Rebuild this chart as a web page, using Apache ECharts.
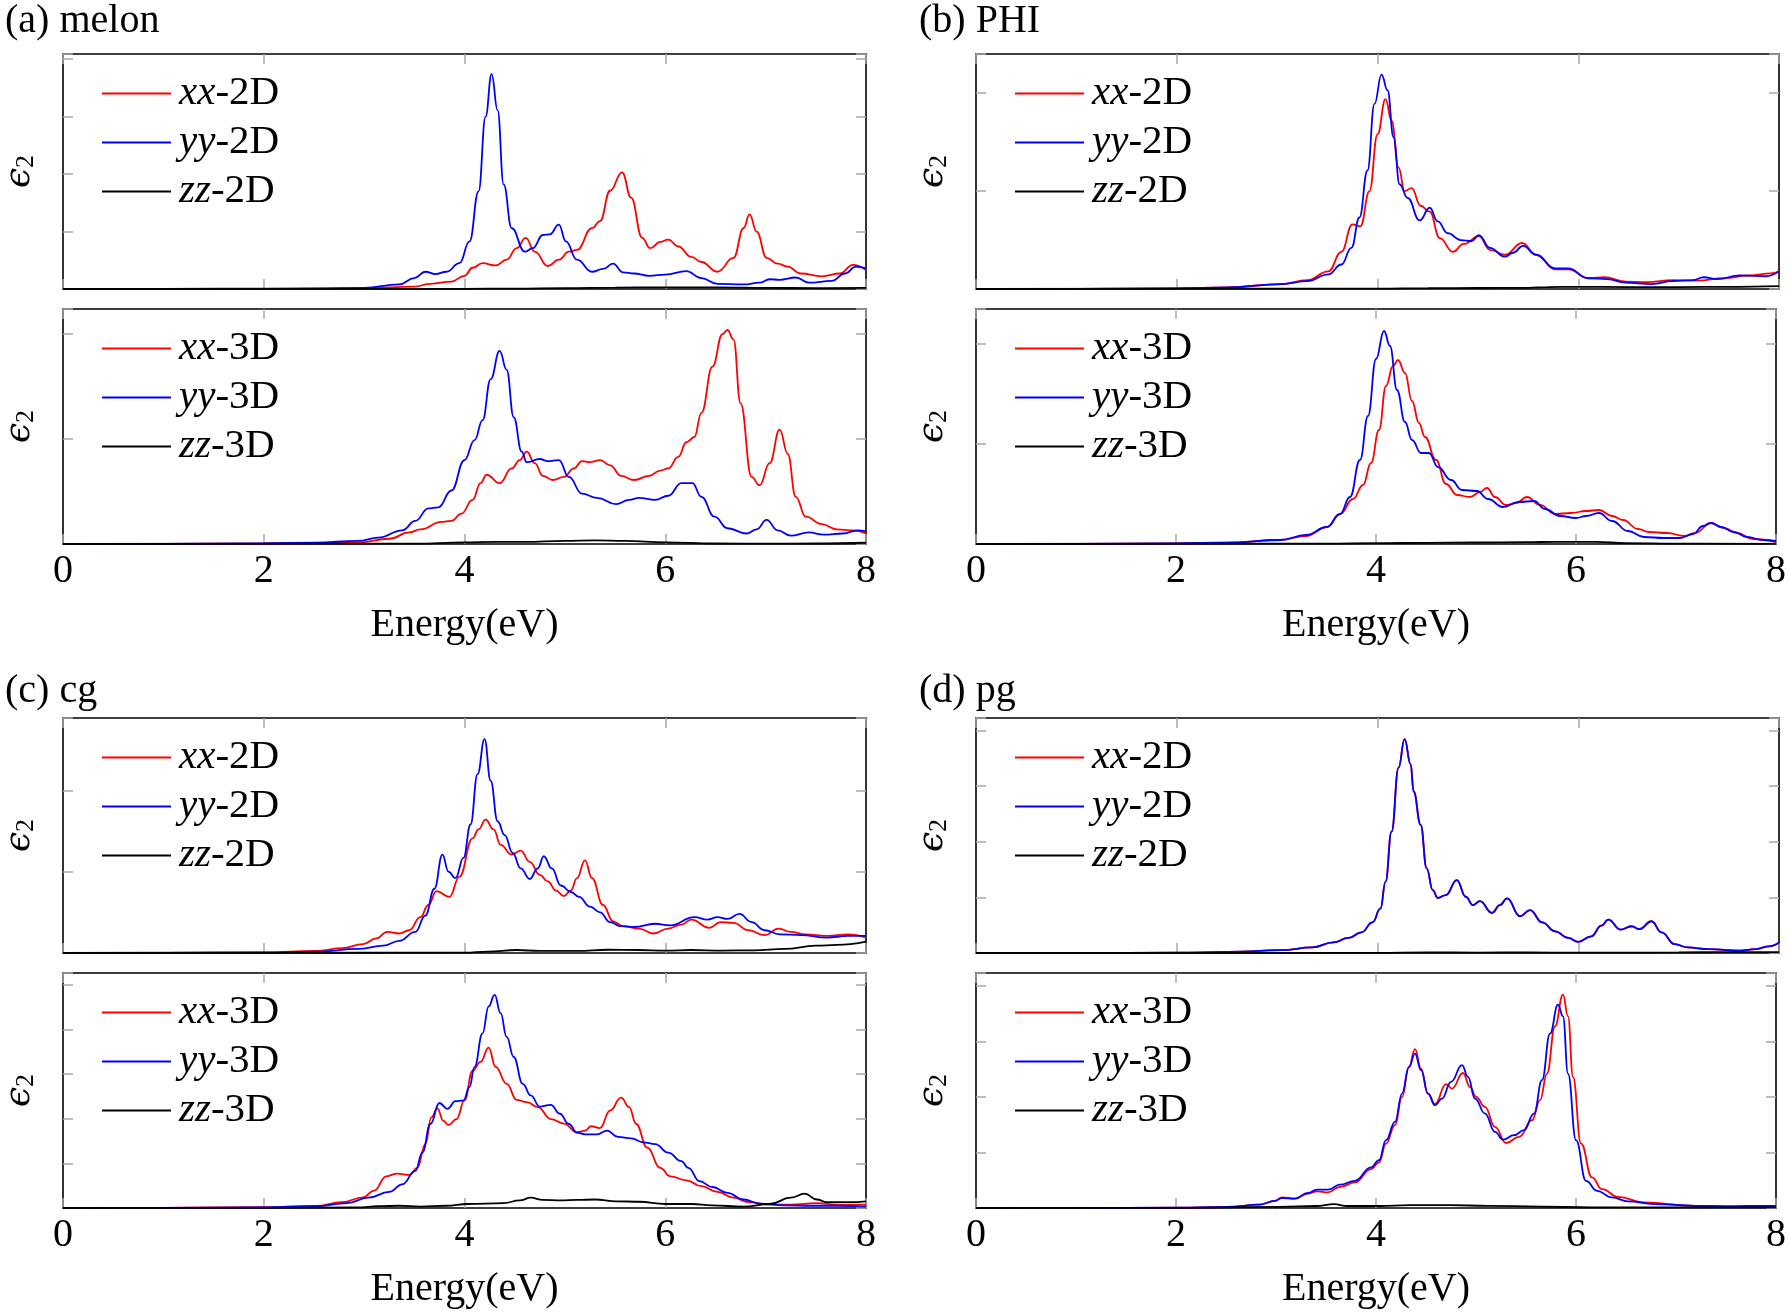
<!DOCTYPE html>
<html>
<head>
<meta charset="utf-8">
<script src="https://cdn.jsdelivr.net/npm/echarts@6/dist/echarts.min.js"></script>
<style>
html, body { margin: 0; background: #fff; }
#chart { width: 1789px; height: 1312px; }
</style>
</head>
<body>
<div id="chart"></div>
<script>
// values, [energy eV, eps2 in tick units]
var melon2D_xx = [[0,0],[1,0.001],[2,0.003],[2.5,0.006],[3,0.012],[3.5,0.04],[3.66,0.09],[3.87,0.13],[4.0,0.23],[4.08,0.37],[4.18,0.45],[4.31,0.41],[4.42,0.51],[4.52,0.71],[4.61,0.89],[4.7,0.65],[4.83,0.40],[4.94,0.51],[5.04,0.65],[5.12,0.68],[5.27,1.06],[5.35,1.18],[5.45,1.71],[5.57,2.03],[5.66,1.59],[5.77,0.89],[5.85,0.71],[5.95,0.82],[6.03,0.86],[6.13,0.74],[6.26,0.56],[6.36,0.47],[6.52,0.30],[6.68,0.54],[6.78,1.06],[6.84,1.30],[6.91,1.0],[7.01,0.54],[7.12,0.44],[7.22,0.39],[7.35,0.27],[7.56,0.22],[7.74,0.27],[7.87,0.42],[8.0,0.33]];
var melon2D_yy = [[0,0],[1,0.002],[2,0.006],[2.5,0.01],[3,0.02],[3.35,0.08],[3.5,0.19],[3.61,0.30],[3.71,0.26],[3.82,0.30],[3.95,0.45],[4.05,0.83],[4.14,1.7],[4.21,3.0],[4.27,3.74],[4.33,3.11],[4.39,1.82],[4.47,1.06],[4.6,0.65],[4.68,0.71],[4.78,0.94],[4.85,0.95],[4.94,1.12],[5.01,0.83],[5.12,0.51],[5.27,0.30],[5.38,0.35],[5.48,0.44],[5.58,0.29],[5.69,0.27],[5.84,0.23],[6.0,0.25],[6.21,0.31],[6.36,0.19],[6.52,0.09],[6.78,0.08],[6.94,0.11],[7.04,0.17],[7.14,0.16],[7.3,0.20],[7.43,0.11],[7.66,0.14],[7.79,0.27],[7.9,0.39],[8.0,0.36]];
var melon2D_zz = [[0,0],[4,0.003],[4.5,0.008],[5,0.015],[5.5,0.025],[6,0.03],[6.5,0.03],[7,0.02],[7.5,0.015],[8,0.02]];

var melon3D_xx = [[0,0],[1,0.002],[2,0.005],[2.5,0.008],[2.94,0.013],[3.25,0.05],[3.45,0.11],[3.56,0.14],[3.77,0.21],[3.87,0.22],[3.97,0.29],[4.08,0.42],[4.16,0.58],[4.22,0.66],[4.35,0.58],[4.47,0.72],[4.55,0.80],[4.62,0.88],[4.7,0.77],[4.78,0.65],[4.88,0.61],[4.99,0.64],[5.09,0.72],[5.17,0.79],[5.25,0.78],[5.35,0.80],[5.45,0.75],[5.56,0.65],[5.69,0.61],[5.84,0.65],[5.95,0.70],[6.03,0.72],[6.13,0.83],[6.21,0.97],[6.29,1.02],[6.36,1.25],[6.47,1.69],[6.57,2.0],[6.62,2.04],[6.68,1.95],[6.75,1.34],[6.86,0.64],[6.94,0.56],[7.04,0.77],[7.14,1.09],[7.22,0.86],[7.3,0.45],[7.4,0.26],[7.56,0.19],[7.71,0.14],[7.87,0.13],[8.0,0.10]];
var melon3D_yy = [[0,0],[1,0.002],[2,0.006],[2.52,0.013],[2.94,0.03],[3.14,0.06],[3.38,0.13],[3.51,0.22],[3.64,0.34],[3.74,0.35],[3.87,0.51],[4.0,0.80],[4.1,0.99],[4.18,1.18],[4.26,1.57],[4.35,1.84],[4.42,1.66],[4.49,1.21],[4.57,0.88],[4.62,0.78],[4.75,0.81],[4.83,0.79],[4.94,0.80],[5.04,0.64],[5.17,0.48],[5.32,0.44],[5.51,0.38],[5.64,0.42],[5.74,0.44],[5.9,0.42],[6.03,0.46],[6.16,0.58],[6.27,0.58],[6.36,0.45],[6.49,0.26],[6.62,0.15],[6.81,0.10],[6.91,0.14],[7.01,0.23],[7.12,0.13],[7.25,0.08],[7.43,0.11],[7.58,0.09],[7.77,0.10],[7.92,0.13],[8.0,0.12]];
var melon3D_zz = [[0,0],[3.5,0.003],[4,0.015],[4.3,0.02],[4.6,0.02],[5,0.03],[5.3,0.035],[5.6,0.03],[6,0.015],[6.5,0.005],[7,0.003],[7.5,0.005],[8,0.012]];

var phi2D_xx = [[0,0],[1,0.002],[2,0.007],[2.5,0.016],[3.04,0.05],[3.3,0.09],[3.51,0.18],[3.64,0.38],[3.75,0.66],[3.83,0.64],[3.92,1.0],[4.0,1.58],[4.08,1.94],[4.14,1.72],[4.21,1.24],[4.27,1.0],[4.34,1.03],[4.43,0.85],[4.52,0.79],[4.62,0.52],[4.75,0.38],[4.86,0.46],[5.01,0.54],[5.12,0.40],[5.27,0.35],[5.44,0.47],[5.58,0.35],[5.77,0.20],[5.9,0.20],[6.1,0.11],[6.26,0.12],[6.47,0.075],[6.68,0.07],[6.94,0.09],[7.19,0.085],[7.45,0.11],[7.71,0.14],[7.92,0.16],[8.0,0.18]];
var phi2D_yy = [[0,0],[1,0.002],[2,0.007],[2.52,0.017],[3.04,0.05],[3.3,0.08],[3.51,0.15],[3.64,0.25],[3.74,0.42],[3.82,0.73],[3.9,1.21],[3.97,1.89],[4.04,2.19],[4.1,2.03],[4.16,1.55],[4.22,1.07],[4.3,0.93],[4.42,0.70],[4.52,0.83],[4.6,0.69],[4.7,0.57],[4.83,0.50],[4.94,0.49],[5.01,0.55],[5.12,0.42],[5.27,0.33],[5.35,0.37],[5.45,0.44],[5.58,0.35],[5.77,0.21],[5.9,0.21],[6.1,0.11],[6.29,0.10],[6.47,0.065],[6.73,0.05],[6.94,0.08],[7.14,0.09],[7.25,0.12],[7.38,0.10],[7.61,0.14],[7.87,0.13],[8.0,0.18]];
var phi2D_zz = [[0,0],[4,0.003],[4.5,0.008],[5,0.01],[5.5,0.012],[5.7,0.02],[6,0.022],[6.5,0.02],[7,0.02],[7.5,0.022],[8,0.03]];

var phi3D_xx = [[0,0],[1,0.002],[2,0.007],[2.5,0.013],[3.04,0.04],[3.3,0.08],[3.51,0.17],[3.64,0.30],[3.77,0.45],[3.87,0.59],[3.95,0.81],[4.03,1.14],[4.1,1.58],[4.17,1.78],[4.22,1.84],[4.29,1.71],[4.36,1.43],[4.43,1.21],[4.49,1.07],[4.6,0.84],[4.7,0.60],[4.81,0.49],[4.94,0.47],[5.04,0.52],[5.11,0.56],[5.19,0.47],[5.3,0.39],[5.4,0.41],[5.51,0.47],[5.64,0.39],[5.79,0.30],[5.95,0.31],[6.1,0.33],[6.23,0.34],[6.36,0.28],[6.47,0.24],[6.62,0.15],[6.73,0.12],[6.91,0.11],[7.09,0.08],[7.19,0.11],[7.35,0.21],[7.48,0.16],[7.61,0.11],[7.77,0.05],[8.0,0.02]];
var phi3D_yy = [[0,0],[1,0.002],[2,0.007],[2.52,0.013],[3.04,0.04],[3.3,0.09],[3.51,0.17],[3.64,0.30],[3.74,0.47],[3.84,0.84],[3.92,1.28],[4.0,1.85],[4.08,2.13],[4.14,1.98],[4.21,1.54],[4.29,1.22],[4.36,1.04],[4.45,0.91],[4.53,0.91],[4.62,0.77],[4.75,0.64],[4.86,0.54],[5.01,0.53],[5.12,0.45],[5.27,0.37],[5.43,0.42],[5.58,0.43],[5.69,0.35],[5.84,0.28],[6.0,0.26],[6.1,0.28],[6.23,0.31],[6.36,0.23],[6.52,0.13],[6.68,0.07],[6.88,0.06],[7.04,0.06],[7.17,0.10],[7.27,0.18],[7.35,0.21],[7.45,0.17],[7.58,0.12],[7.71,0.07],[7.87,0.04],[8.0,0.03]];
var phi3D_zz = [[0,0],[3.5,0.003],[4,0.008],[4.5,0.012],[5,0.015],[5.5,0.018],[5.8,0.022],[6.2,0.022],[6.5,0.008],[7,0.003],[8,0.002]];

var cg2D_xx = [[0,0],[1,0.003],[2,0.01],[2.52,0.025],[2.78,0.06],[2.99,0.11],[3.12,0.18],[3.23,0.26],[3.35,0.24],[3.45,0.28],[3.56,0.44],[3.64,0.59],[3.72,0.76],[3.85,0.69],[3.95,0.94],[4.08,1.41],[4.14,1.52],[4.21,1.64],[4.29,1.52],[4.36,1.33],[4.47,1.21],[4.56,1.26],[4.65,1.12],[4.75,0.96],[4.83,0.88],[4.91,0.77],[4.99,0.70],[5.06,0.77],[5.12,0.92],[5.2,1.14],[5.27,0.92],[5.38,0.59],[5.48,0.39],[5.58,0.33],[5.74,0.30],[5.88,0.24],[6.03,0.30],[6.16,0.35],[6.26,0.41],[6.44,0.31],[6.55,0.38],[6.68,0.37],[6.83,0.28],[6.99,0.22],[7.13,0.30],[7.25,0.26],[7.4,0.23],[7.61,0.21],[7.82,0.23],[8.0,0.19]];
var cg2D_yy = [[0,0],[1,0.002],[2,0.004],[2.52,0.017],[2.94,0.05],[3.19,0.09],[3.35,0.15],[3.51,0.26],[3.61,0.46],[3.7,0.79],[3.78,1.21],[3.84,1.0],[3.91,0.92],[3.99,1.17],[4.06,1.58],[4.13,2.20],[4.2,2.63],[4.26,2.12],[4.33,1.62],[4.4,1.45],[4.48,1.23],[4.56,1.04],[4.65,0.91],[4.73,1.04],[4.79,1.19],[4.87,1.04],[4.96,0.83],[5.06,0.75],[5.14,0.69],[5.25,0.57],[5.35,0.50],[5.45,0.38],[5.56,0.33],[5.69,0.32],[5.9,0.36],[6.05,0.34],[6.29,0.44],[6.42,0.41],[6.52,0.44],[6.62,0.42],[6.74,0.48],[6.86,0.38],[6.99,0.28],[7.14,0.23],[7.35,0.22],[7.61,0.19],[7.82,0.21],[8.0,0.21]];
var cg2D_zz = [[0,0],[2,0.002],[4.0,0.004],[4.23,0.017],[4.52,0.037],[4.75,0.025],[5.12,0.025],[5.43,0.04],[5.74,0.037],[6.0,0.03],[6.26,0.037],[6.57,0.03],[6.88,0.033],[7.19,0.05],[7.5,0.09],[7.71,0.10],[8.0,0.14]];

var cg3D_xx = [[0,0],[1,0.005],[2,0.02],[2.52,0.045],[2.78,0.13],[2.99,0.24],[3.1,0.39],[3.22,0.71],[3.33,0.77],[3.45,0.74],[3.53,0.90],[3.61,1.43],[3.67,2.03],[3.73,2.23],[3.79,1.95],[3.84,1.86],[3.92,1.99],[4.0,2.41],[4.08,3.07],[4.16,3.27],[4.24,3.59],[4.31,3.16],[4.42,2.78],[4.52,2.42],[4.62,2.37],[4.73,2.26],[4.86,1.99],[4.99,1.89],[5.12,1.69],[5.2,1.73],[5.26,1.83],[5.35,1.79],[5.45,2.18],[5.56,2.47],[5.64,2.26],[5.71,1.88],[5.82,1.35],[5.95,0.90],[6.05,0.71],[6.21,0.62],[6.36,0.49],[6.52,0.36],[6.68,0.23],[6.83,0.13],[7.04,0.075],[7.25,0.075],[7.51,0.11],[7.71,0.075],[8.0,0.075]];
var cg3D_yy = [[0,0],[1,0.005],[2,0.015],[2.52,0.04],[2.83,0.11],[3.04,0.23],[3.25,0.36],[3.38,0.53],[3.51,0.83],[3.58,1.24],[3.66,1.88],[3.75,2.35],[3.83,2.22],[3.91,2.39],[3.99,2.41],[4.05,2.71],[4.1,3.16],[4.18,3.91],[4.24,4.51],[4.3,4.77],[4.36,4.36],[4.42,3.83],[4.49,3.38],[4.58,2.78],[4.66,2.52],[4.75,2.27],[4.86,2.31],[4.95,2.11],[5.04,1.88],[5.12,1.69],[5.2,1.65],[5.32,1.65],[5.42,1.73],[5.53,1.59],[5.66,1.56],[5.78,1.47],[5.9,1.43],[6.03,1.24],[6.16,1.05],[6.23,0.90],[6.34,0.60],[6.47,0.47],[6.62,0.34],[6.78,0.19],[6.94,0.10],[7.19,0.06],[7.45,0.05],[7.71,0.05],[8.0,0.03]];
var cg3D_zz = [[0,0],[2,0.002],[2.94,0.015],[3.14,0.04],[3.35,0.05],[3.56,0.03],[3.82,0.05],[4.03,0.09],[4.39,0.11],[4.55,0.17],[4.66,0.23],[4.78,0.18],[4.96,0.17],[5.12,0.18],[5.3,0.19],[5.51,0.15],[5.74,0.14],[6.0,0.09],[6.26,0.09],[6.47,0.06],[6.78,0.03],[7.04,0.09],[7.25,0.23],[7.39,0.32],[7.51,0.19],[7.61,0.13],[7.82,0.13],[8.0,0.15]];

var pg2D_yy = [[0,0],[1,0.002],[2,0.006],[2.52,0.02],[3.04,0.05],[3.35,0.10],[3.56,0.19],[3.71,0.27],[3.84,0.37],[3.95,0.55],[4.03,0.80],[4.08,1.28],[4.14,2.18],[4.21,3.33],[4.27,3.84],[4.33,3.39],[4.36,2.90],[4.43,2.30],[4.49,1.52],[4.55,1.13],[4.6,0.99],[4.68,1.04],[4.79,1.31],[4.88,1.01],[4.95,0.86],[5.02,0.93],[5.14,0.72],[5.22,0.86],[5.29,0.98],[5.42,0.66],[5.52,0.77],[5.64,0.55],[5.77,0.39],[5.9,0.27],[6.0,0.20],[6.13,0.30],[6.23,0.49],[6.3,0.60],[6.42,0.42],[6.53,0.48],[6.61,0.43],[6.73,0.57],[6.83,0.37],[6.96,0.16],[7.09,0.10],[7.3,0.07],[7.61,0.04],[7.77,0.07],[7.9,0.12],[8.0,0.19]];
// in (d) the xx-2D curve lies under yy-2D everywhere
var pg2D_xx = pg2D_yy;
var pg2D_zz = [[0,0],[4,0.003],[4.5,0.01],[5,0.008],[5.5,0.01],[6,0.005],[6.5,0.005],[7,0.012],[7.5,0.015],[8,0.015]];

var pg3D_xx = [[0,0],[1,0.002],[2,0.006],[2.52,0.02],[2.83,0.06],[2.99,0.13],[3.06,0.19],[3.19,0.17],[3.32,0.26],[3.41,0.30],[3.52,0.28],[3.64,0.38],[3.79,0.46],[3.95,0.70],[4.03,0.82],[4.1,1.16],[4.19,1.49],[4.26,2.0],[4.33,2.54],[4.39,2.86],[4.45,2.51],[4.52,2.06],[4.59,1.87],[4.7,2.23],[4.76,2.15],[4.87,2.43],[4.94,2.18],[5.0,2.0],[5.09,1.82],[5.19,1.46],[5.3,1.17],[5.43,1.28],[5.56,1.58],[5.64,1.94],[5.71,2.42],[5.79,3.27],[5.87,3.84],[5.92,3.45],[5.97,2.36],[6.05,1.16],[6.16,0.55],[6.26,0.34],[6.42,0.20],[6.68,0.10],[7.19,0.036],[8.0,0.024]];
var pg3D_yy = [[0,0],[1,0.002],[2,0.006],[2.52,0.02],[2.83,0.06],[2.99,0.13],[3.06,0.18],[3.19,0.17],[3.32,0.27],[3.41,0.33],[3.52,0.33],[3.64,0.42],[3.79,0.49],[3.95,0.73],[4.03,0.86],[4.1,1.22],[4.19,1.55],[4.26,2.06],[4.33,2.54],[4.39,2.78],[4.45,2.48],[4.52,2.06],[4.59,1.85],[4.66,1.97],[4.75,2.27],[4.86,2.57],[4.92,2.36],[4.99,1.97],[5.09,1.70],[5.19,1.37],[5.27,1.23],[5.38,1.31],[5.48,1.40],[5.58,1.70],[5.66,2.30],[5.74,3.14],[5.82,3.66],[5.87,3.45],[5.92,2.42],[6.0,1.22],[6.1,0.49],[6.21,0.31],[6.36,0.19],[6.52,0.12],[6.78,0.07],[7.19,0.04],[7.51,0.024],[7.71,0.036],[8.0,0.036]];
var pg3D_zz = [[0,0],[2,0.003],[3.04,0.02],[3.4,0.036],[3.58,0.07],[3.71,0.036],[4.03,0.036],[4.34,0.05],[4.75,0.05],[5.12,0.04],[5.64,0.024],[6.16,0.012],[8,0.012]];

var panelTitles = ['(a) melon', '(b) PHI', '(c) cg', '(d) pg'];
var seriesNames = ['xx', 'yy', 'zz'];
var dims = ['2D', '3D'];
var energyTicks = [0, 2, 4, 6, 8];

var panels = [
  { sets: [[melon2D_xx, melon2D_yy, melon2D_zz], [melon3D_xx, melon3D_yy, melon3D_zz]], ymax: [4.09, 2.24] },
  { sets: [[phi2D_xx, phi2D_yy, phi2D_zz], [phi3D_xx, phi3D_yy, phi3D_zz]], ymax: [2.40, 2.35] },
  { sets: [[cg2D_xx, cg2D_yy, cg2D_zz], [cg3D_xx, cg3D_yy, cg3D_zz]], ymax: [2.89, 5.26] },
  { sets: [[pg2D_xx, pg2D_yy, pg2D_zz], [pg3D_xx, pg3D_yy, pg3D_zz]], ymax: [4.22, 4.23] }
];

var FONT = "Liberation Serif";
var FS = 40;
var COLORS = { xx: '#ff0000', yy: '#0000ff', zz: '#000000' };

var tick = { show: true, inside: true, length: 10, lineStyle: { color: '#a8a8a8', width: 1.5 } };

var option = {
  animation: false,
  backgroundColor: '#fff',
  textStyle: { fontFamily: FONT, color: '#000' },
  title: [], grid: [], xAxis: [], yAxis: [], legend: [], series: []
};

panels.forEach(function (p, pi) {
  var col = pi % 2, row = Math.floor(pi / 2);
  var left = col ? 976 : 63;
  option.title.push({
    text: panelTitles[pi], left: col ? 919 : 5, top: row ? 671 : 1, padding: 0,
    textStyle: { fontFamily: FONT, fontSize: FS, fontWeight: 'normal', color: '#000' }
  });
  p.sets.forEach(function (set, si) {
    var gi = option.grid.length;
    var top = (row ? 718 : 54) + si * 255;
    var last = si === 1;
    option.grid.push({ left: left, top: top, width: 803, height: 235, show: true, borderColor: '#000', borderWidth: 1.6 });

    option.xAxis.push({
      type: 'value', gridIndex: gi, position: 'bottom', min: energyTicks[0], max: energyTicks[energyTicks.length - 1], interval: 2,
      axisLine: { show: false, onZero: false }, axisTick: tick, splitLine: { show: false },
      axisLabel: { show: last, margin: 7, fontFamily: FONT, fontSize: FS, fontWeight: 'normal', color: '#000' },
      name: last ? 'Energy(eV)' : '', nameLocation: 'middle', nameGap: 61,
      nameTextStyle: { fontFamily: FONT, fontSize: FS, color: '#000' }
    });
    option.xAxis.push({
      type: 'value', gridIndex: gi, position: 'top', min: 0, max: 8, interval: 2,
      axisLine: { show: false, onZero: false }, axisTick: tick, axisLabel: { show: false }, splitLine: { show: false }
    });

    option.yAxis.push({
      type: 'value', gridIndex: gi, position: 'left', min: 0, max: p.ymax[si], interval: 1,
      axisLine: { show: false, onZero: false }, axisTick: tick, axisLabel: { show: false }, splitLine: { show: false },
      name: '{e|ϵ}{s|2}', nameLocation: 'middle', nameRotate: 90, nameGap: 24,
      nameTextStyle: {
        fontFamily: FONT, color: '#000',
        rich: {
          e: { fontFamily: 'DejaVu Serif', fontSize: 36, lineHeight: 38, fontStyle: 'italic', color: '#000' },
          s: { fontFamily: FONT, fontSize: 26, lineHeight: 14, verticalAlign: 'bottom', color: '#000' }
        }
      }
    });
    option.yAxis.push({
      type: 'value', gridIndex: gi, position: 'right', min: 0, max: p.ymax[si], interval: 1,
      axisLine: { show: false, onZero: false }, axisTick: tick, axisLabel: { show: false }, splitLine: { show: false }
    });

    var names = seriesNames.map(function (n) { return n + '-' + dims[si]; });
    option.legend.push({
      left: left + 39, top: top + 19, orient: 'vertical', padding: 0,
      itemWidth: 69, itemHeight: 40, itemGap: 8, selectedMode: false,
      icon: 'path://M0,0H69V2.1H0Z',
      data: names,
      formatter: function (name) {
        var parts = name.split('-');
        return '{i|' + parts[0] + '}{n|-' + parts[1] + '}';
      },
      textStyle: {
        fontFamily: FONT, fontSize: 41, lineHeight: 40, color: '#000',
        rich: {
          i: { fontFamily: FONT, fontSize: 41, fontStyle: 'italic', color: '#000', padding: [0, 0, 0, 3] },
          n: { fontFamily: FONT, fontSize: 41, color: '#000' }
        }
      }
    });

    seriesNames.forEach(function (n, k) {
      option.series.push({
        type: 'line', name: names[k], xAxisIndex: 2 * gi, yAxisIndex: 2 * gi,
        data: set[k], symbol: 'none', showSymbol: false,
        smooth: 0.45, smoothMonotone: 'x',
        lineStyle: { color: COLORS[n], width: 1.8 }, itemStyle: { color: COLORS[n] }
      });
    });
  });
});

echarts.init(document.getElementById('chart')).setOption(option);
</script>
</body>
</html>
